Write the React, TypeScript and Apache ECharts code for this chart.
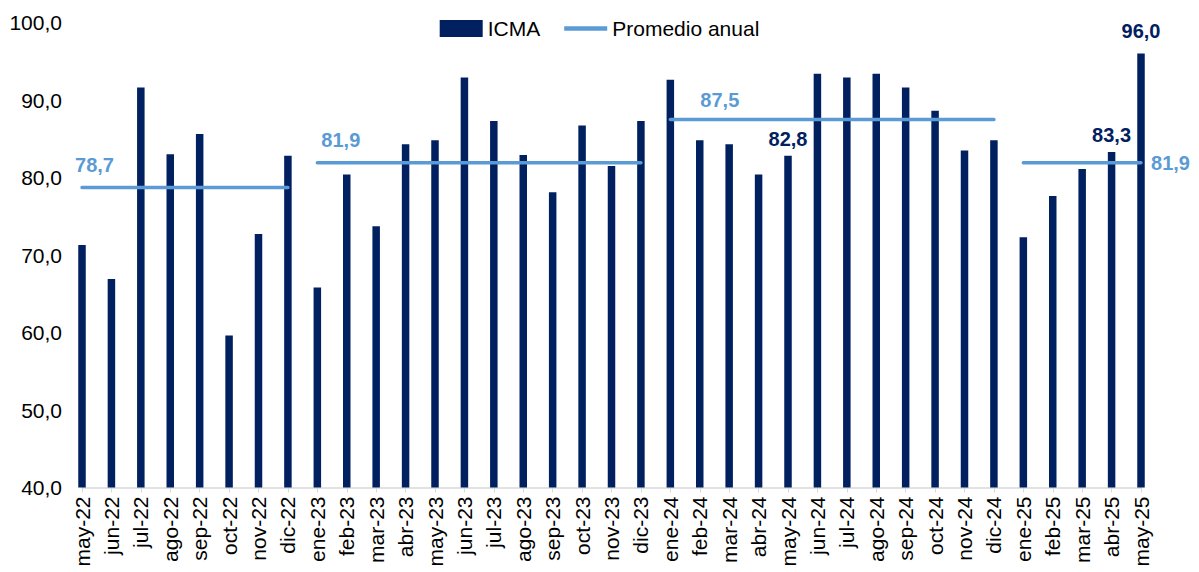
import React, { useEffect, useRef } from "react";
import * as echarts from "echarts";

const months = [
  "may-22", "jun-22", "jul-22", "ago-22", "sep-22", "oct-22", "nov-22", "dic-22",
  "ene-23", "feb-23", "mar-23", "abr-23", "may-23", "jun-23", "jul-23", "ago-23",
  "sep-23", "oct-23", "nov-23", "dic-23",
  "ene-24", "feb-24", "mar-24", "abr-24", "may-24", "jun-24", "jul-24", "ago-24",
  "sep-24", "oct-24", "nov-24", "dic-24",
  "ene-25", "feb-25", "mar-25", "abr-25", "may-25",
];

const icma = [
  71.3, 66.9, 91.6, 83.0, 85.6, 59.6, 72.7, 82.8,
  65.8, 80.4, 73.7, 84.3, 84.8, 92.9, 87.3, 82.9, 78.1, 86.7, 81.5, 87.3,
  92.6, 84.8, 84.3, 80.4, 82.8, 93.4, 92.9, 93.4, 91.6, 88.6, 83.5, 84.8,
  72.3, 77.6, 81.1, 83.3, 96.0,
];

// indices of bars that carry a value label
const labeledBars = [24, 35, 36];

// annual averages: first index, last index, value
const avgStart = [0, 8, 20, 32];
const avgEnd = [7, 19, 31, 36];
const avgValue = [78.7, 81.9, 87.5, 81.9];

const yTicks = { min: 40, max: 100, interval: 10 };

const NAVY = "#002060";
const LIGHT = "#5B9BD5";
const FONT = "'Liberation Sans', Arial, sans-serif";

const fmt = (v: number) => v.toFixed(1).replace(".", ",");

// label placement per average segment (offset from anchor point, anchor = first or last point)
const avgLabelAnchorLast = [false, false, false, true];
const avgLabelOffset: [number, number][] = [
  [13, -22],
  [24, -22],
  [50, -19],
  [30, 1],
];

export default function App() {
  const ref = useRef<HTMLDivElement>(null);

  useEffect(() => {
    if (!ref.current) return;
    const chart = echarts.init(ref.current, undefined, { renderer: "svg" });

    const barData = icma.map((v, i) =>
      labeledBars.includes(i)
        ? {
            value: v,
            label: {
              show: true,
              position: "top",
              distance: i === 36 ? 13 : 7,
              formatter: (p: any) => fmt(p.value),
              color: NAVY,
              fontSize: 20,
              fontWeight: "bold",
              fontFamily: FONT,
            },
          }
        : v
    );

    const avgSeries = avgValue.map((val, k) => {
      const data = months.map((_, i) => {
        if (i < avgStart[k] || i > avgEnd[k]) return null;
        const anchor = avgLabelAnchorLast[k] ? avgEnd[k] : avgStart[k];
        if (i === anchor) {
          return {
            value: val,
            label: {
              show: true,
              position: avgLabelOffset[k],
              align: "center",
              verticalAlign: "middle",
              formatter: (p: any) => fmt(p.value),
              color: LIGHT,
              fontSize: 20,
              fontWeight: "bold",
              fontFamily: FONT,
            },
          };
        }
        return val;
      });
      return {
        name: "Promedio anual",
        type: "line",
        data,
        symbol: "circle",
        symbolSize: 1,
        showSymbol: true,
        itemStyle: { color: LIGHT },
        lineStyle: { color: LIGHT, width: 3.5, cap: "round" },
        connectNulls: false,
        z: 3,
      };
    });

    chart.setOption({
      animation: false,
      textStyle: { fontFamily: FONT },
      legend: {
        top: 13,
        left: "center",
        itemWidth: 43,
        itemHeight: 17,
        itemGap: 24,
        textStyle: { fontSize: 21, color: "#000", fontFamily: FONT },
        data: [
          { name: "ICMA", icon: "rect" },
          { name: "Promedio anual", icon: "path://M0,0 H40 V4 H0 Z" },
        ],
      },
      grid: { left: 82, right: 58, top: 22.5, bottom: 84.5, containLabel: false },
      xAxis: {
        type: "category",
        data: months,
        boundaryGap: false,
        axisLine: { lineStyle: { color: "#D9D9D9", width: 1.5 } },
        axisTick: { show: true, length: 5, lineStyle: { color: "#D9D9D9" } },
        axisLabel: {
          rotate: 90,
          interval: 0,
          margin: 9,
          fontSize: 21,
          color: "#000",
          fontFamily: FONT,
        },
        splitLine: { show: false },
      },
      yAxis: {
        type: "value",
        min: yTicks.min,
        max: yTicks.max,
        interval: yTicks.interval,
        axisLine: { show: false },
        axisTick: { show: false },
        splitLine: { show: false },
        axisLabel: {
          formatter: (v: number) => fmt(v),
          fontSize: 21,
          color: "#000",
          margin: 20,
          fontFamily: FONT,
        },
      },
      series: [
        {
          name: "ICMA",
          type: "bar",
          data: barData,
          barWidth: 7.5,
          itemStyle: { color: NAVY },
          z: 2,
        },
        ...avgSeries,
      ],
    });

    return () => chart.dispose();
  }, []);

  return (
    <div
      ref={ref}
      style={{ position: "absolute", left: 0, top: 0, width: 1199, height: 572, background: "#fff" }}
    />
  );
}
